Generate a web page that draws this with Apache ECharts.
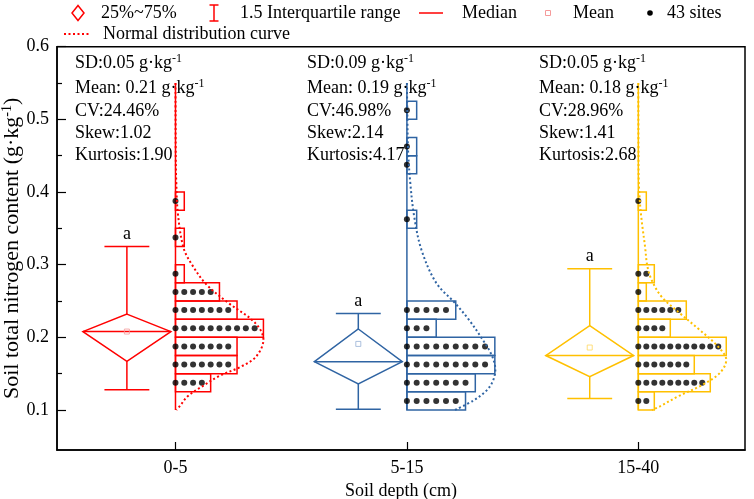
<!DOCTYPE html>
<html><head><meta charset="utf-8">
<script src="https://cdn.jsdelivr.net/npm/echarts@6/dist/echarts.min.js"></script>
<style>html,body{margin:0;padding:0;background:#fff}#c{width:754px;height:499px}</style>
</head><body><div id="c"></div>
<script>
// ---------- data ----------
const categories = ['0-5', '5-15', '15-40'];
const binLower = [0.100,0.125,0.150,0.175,0.200,0.225,0.250,0.275,0.300,0.325,0.350,0.375,0.400,0.425,0.450,0.475,0.500,0.525];
const binWidth = 0.025;
const counts0_5   = [0,4,7,7,10,7,5,1,0,1,0,1,0,0,0,0,0,0];
const counts5_15  = [6,7,9,9,3,5,0,0,0,0,1,0,0,1,1,0,1,0];
const counts15_40 = [2,9,7,11,4,6,1,2,0,0,0,1,0,0,0,0,0,0];
const whiskerLow  = [0.128, 0.101, 0.116];
const q1          = [0.167, 0.136, 0.146];
const medianV     = [0.208, 0.1665, 0.175];
const q3          = [0.232, 0.2115, 0.216];
const whiskerHigh = [0.325, 0.233, 0.2945];
const meanV       = [0.208, 0.191, 0.186];
const letters     = ['a', 'a', 'a'];
// normal curves: [soil N value, height in histogram count units]
const normal0_5 = [[0.55,0],[0.45,0.03],[0.417,0.08],[0.371,0.27],[0.323,0.92],[0.298,1.98],[0.273,3.5],[0.2475,6.0],[0.22,9.05],[0.197,10.0],[0.174,9.2],[0.16,7.5],[0.147,5.0],[0.133,3.1],[0.119,1.4],[0.105,0.46],[0.1,0.1]];
const normal5_15 = [[0.55,0],[0.5,0.05],[0.457,0.12],[0.412,0.35],[0.366,0.75],[0.32,1.5],[0.275,3.0],[0.2475,4.9],[0.225,6.3],[0.2,7.6],[0.175,8.7],[0.155,9.05],[0.137,8.7],[0.125,8.0],[0.113,6.8],[0.1,4.9]];
const normal15_40 = [[0.55,0],[0.45,0.02],[0.417,0.05],[0.386,0.2],[0.357,0.46],[0.325,0.84],[0.298,1.13],[0.279,1.67],[0.256,2.9],[0.235,5.0],[0.21,7.7],[0.187,10.0],[0.169,11.0],[0.151,10.2],[0.134,7.9],[0.119,5.0],[0.105,2.7],[0.1,1.7]];
const sdText   = ['0.05', '0.09', '0.05'];
const meanText = ['0.21', '0.19', '0.18'];
const cvText   = ['24.46%', '46.98%', '28.96%'];
const skewText = ['1.02', '2.14', '1.41'];
const kurtText = ['1.90', '4.17', '2.68'];
const yLabels  = [0.1, 0.2, 0.3, 0.4, 0.5, 0.6];
const yMinor   = [0.15, 0.25, 0.35, 0.45, 0.55];

// ---------- styling ----------
const colors = ['#FF0000', '#2F64A3', '#FFC000'];
const meanColors = ['#F59A9A', '#97B1D6', '#FFD75E'];
const FONT = '"Liberation Serif", "Times New Roman", serif';
const X_MIN = 0.488, X_MAX = 3.461;
const BAR_MAX = 0.380, BOX_OFF = -0.21, DIAM_HALF = 0.19, CAP_HALF = 0.097;

const chart = echarts.init(document.getElementById('c'));
const allCounts = [counts0_5, counts5_15, counts15_40];
const allCurves = [normal0_5, normal5_15, normal15_40];
const series = [];

allCounts.forEach((cnt, g) => {
  const cat = g + 1;
  const k = BAR_MAX / Math.max(...cnt);
  const barData = [], dotData = [];
  cnt.forEach((c, b) => {
    if (c > 0) {
      barData.push([cat, binLower[b], binLower[b] + binWidth, c * k]);
      for (let j = 0; j < c; j++) dotData.push([cat + j * k, binLower[b] + binWidth / 2]);
    }
  });
  series.push({
    type: 'custom', z: 2, silent: true, data: barData,
    renderItem: (params, api) => {
      const p0 = api.coord([api.value(0), api.value(2)]);
      const p1 = api.coord([api.value(0) + api.value(3), api.value(1)]);
      return { type: 'rect', shape: { x: p0[0], y: p0[1], width: p1[0] - p0[0], height: p1[1] - p0[1] },
        style: { fill: 'none', stroke: colors[g], lineWidth: 1.5 } };
    }
  });
  series.push({ type: 'line', z: 3, silent: true, data: [[cat, 0.1], [cat, 0.55]], symbol: 'none',
    lineStyle: { color: colors[g], width: 1.5 } });
  series.push({ type: 'scatter', z: 4, silent: true, data: dotData, symbol: 'circle', symbolSize: 6,
    itemStyle: { color: '#000' } });
  series.push({ type: 'line', z: 5, silent: true, data: allCurves[g].map(p => [cat + p[1] * k, p[0]]),
    symbol: 'none', smooth: 0.35, lineStyle: { color: colors[g], width: 2, type: [2, 2.5] } });
});

series.push({
  type: 'custom', z: 3, silent: true,
  data: categories.map((c, i) => [i + 1, whiskerLow[i], q1[i], medianV[i], q3[i], whiskerHigh[i]]),
  renderItem: (params, api) => {
    const i = params.dataIndex, col = colors[i];
    const cx = api.value(0) + BOX_OFF;
    const c = (x, y) => api.coord([x, y]);
    const top = c(cx, api.value(4)), bot = c(cx, api.value(2));
    const L = c(cx - DIAM_HALF, api.value(3)), R = c(cx + DIAM_HALF, api.value(3));
    const hi = c(cx, api.value(5)), lo = c(cx, api.value(1));
    const capL = c(cx - CAP_HALF, 0.2)[0], capR = c(cx + CAP_HALF, 0.2)[0];
    const st = { stroke: col, lineWidth: 1.5, fill: 'none' };
    return { type: 'group', children: [
      { type: 'polygon', shape: { points: [top, R, bot, L] }, style: st },
      { type: 'line', shape: { x1: L[0], y1: L[1], x2: R[0], y2: R[1] }, style: st },
      { type: 'line', shape: { x1: hi[0], y1: hi[1], x2: top[0], y2: top[1] }, style: st },
      { type: 'line', shape: { x1: bot[0], y1: bot[1], x2: lo[0], y2: lo[1] }, style: st },
      { type: 'line', shape: { x1: capL, y1: hi[1], x2: capR, y2: hi[1] }, style: st },
      { type: 'line', shape: { x1: capL, y1: lo[1], x2: capR, y2: lo[1] }, style: st },
      { type: 'text', x: hi[0], y: hi[1] - 12, style: { text: letters[i], fill: '#000', font: '18px ' + FONT, align: 'center', verticalAlign: 'middle' } }
    ] };
  }
});
series.push({
  type: 'scatter', z: 6, silent: true, symbol: 'rect', symbolSize: 5,
  data: meanV.map((v, i) => ({ value: [i + 1 + BOX_OFF, v], itemStyle: { color: 'rgba(0,0,0,0)', borderColor: meanColors[i], borderWidth: 1 } }))
});

// stats text & legend
const graphic = [];
const statX = [75, 307, 539];
const statY = [63.5, 88, 111, 133.5, 155.5];
const rich = { sup: { fontSize: 12, fontFamily: FONT, fill: '#000', padding: [0, 0, 9, 0] } };
categories.forEach((c, i) => {
  const lines = ['SD:' + sdText[i] + ' g·kg{sup|-1}', 'Mean: ' + meanText[i] + ' g·kg{sup|-1}',
    'CV:' + cvText[i], 'Skew:' + skewText[i], 'Kurtosis:' + kurtText[i]];
  lines.forEach((t, j) => graphic.push({ type: 'text', x: statX[i], y: statY[j], z: 10,
    style: { text: t, fontSize: 18, fontFamily: FONT, fill: '#000', verticalAlign: 'middle', rich: rich } }));
});
const red = '#FF0000';
const lt = (x, y, t) => ({ type: 'text', x: x, y: y, style: { text: t, fontSize: 18, fontFamily: FONT, fill: '#000', verticalAlign: 'middle' } });
graphic.push(
  { type: 'polygon', shape: { points: [[78, 5.5], [84, 13], [78, 20.5], [72, 13]] }, style: { fill: 'none', stroke: red, lineWidth: 1.5 } },
  lt(101, 13, '25%~75%'),
  { type: 'line', shape: { x1: 214, y1: 5, x2: 214, y2: 21 }, style: { stroke: red, lineWidth: 1.5 } },
  { type: 'line', shape: { x1: 209.5, y1: 5, x2: 218.5, y2: 5 }, style: { stroke: red, lineWidth: 1.5 } },
  { type: 'line', shape: { x1: 209.5, y1: 21, x2: 218.5, y2: 21 }, style: { stroke: red, lineWidth: 1.5 } },
  lt(240, 13, '1.5 Interquartile range'),
  { type: 'line', shape: { x1: 419, y1: 13, x2: 443, y2: 13 }, style: { stroke: red, lineWidth: 1.5 } },
  lt(462, 13, 'Median'),
  { type: 'rect', shape: { x: 545.5, y: 10.5, width: 5, height: 5 }, style: { fill: 'none', stroke: meanColors[0], lineWidth: 1 } },
  lt(573, 13, 'Mean'),
  { type: 'circle', shape: { cx: 650, cy: 13, r: 2.8 }, style: { fill: '#000' } },
  lt(667, 13, '43 sites'),
  { type: 'line', shape: { x1: 64, y1: 34, x2: 90, y2: 34 }, style: { stroke: red, lineWidth: 2, lineDash: [2, 2.5] } },
  lt(103, 34, 'Normal distribution curve')
);

const axisFont = { fontSize: 18, fontFamily: FONT, color: '#000' };
chart.setOption({
  animation: false,
  grid: { left: 57, right: 9, top: 46.7, bottom: 49, show: true, borderColor: '#000', borderWidth: 1.5, outerBoundsMode: 'none' },
  xAxis: {
    type: 'value', min: X_MIN, max: X_MAX,
    axisLine: { lineStyle: { color: '#000', width: 1.5 } },
    axisTick: { show: true, inside: true, length: 8, customValues: [1, 2, 3], lineStyle: { color: '#000', width: 1.2 } },
    axisLabel: Object.assign({ customValues: [1, 2, 3], formatter: v => categories[Math.round(v) - 1], margin: 9 }, axisFont),
    splitLine: { show: false },
    name: 'Soil depth (cm)', nameLocation: 'middle', nameGap: 28, nameTextStyle: axisFont
  },
  yAxis: [{
    type: 'value', min: 0.045, max: 0.6,
    axisLine: { show: true, lineStyle: { color: '#000', width: 1.5 } },
    axisTick: { show: true, inside: true, length: 9, customValues: yLabels, lineStyle: { color: '#000', width: 1.2 } },
    axisLabel: Object.assign({ customValues: yLabels, formatter: v => v.toFixed(1), margin: 8 }, axisFont),
    splitLine: { show: false },
    name: 'Soil total nitrogen content (g·kg{sup|-1})', nameLocation: 'middle', nameGap: 33, nameMoveOverlap: false,
    nameTextStyle: { fontSize: 22, fontFamily: FONT, color: '#000',
      rich: { sup: { fontSize: 14, fontFamily: FONT, color: '#000', padding: [0, 0, 10, 0] } } }
  }, {
    type: 'value', min: 0.045, max: 0.6, position: 'left',
    axisLine: { show: false }, axisLabel: { show: false }, splitLine: { show: false },
    axisTick: { show: true, inside: true, length: 5, customValues: yMinor, lineStyle: { color: '#000', width: 1.2 } }
  }],
  series: series,
  graphic: graphic
});
</script></body></html>
